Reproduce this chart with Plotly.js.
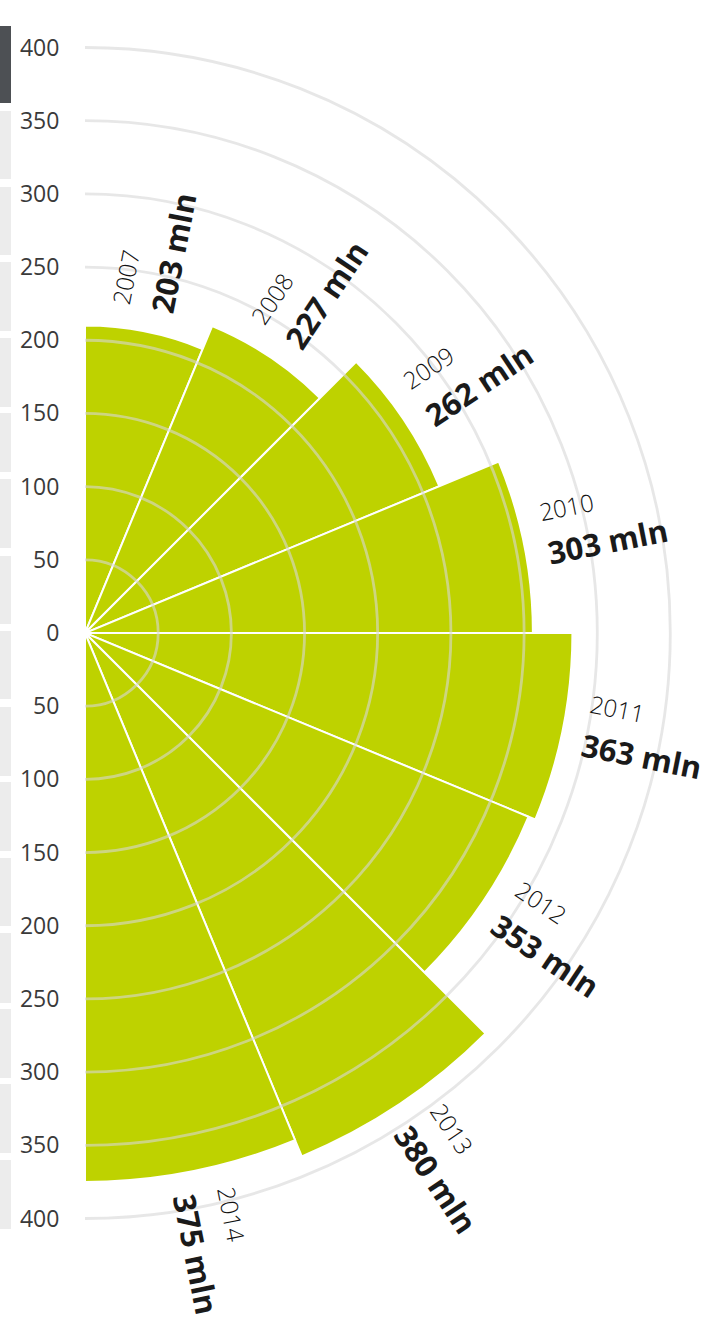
<!DOCTYPE html>
<html>
<head>
<meta charset="utf-8">
<script src="https://cdn.plot.ly/plotly-3.0.1.min.js"></script>
<style>
html,body{margin:0;padding:0;background:#ffffff;}
#chart{width:704px;height:1319px;}
</style>
</head>
<body>
<div id="chart"></div>
<script>
// ---------------- data ----------------
const years = ['2007','2008','2009','2010','2011','2012','2013','2014'];
const barValues = [210, 227, 262, 306, 333, 328, 387, 375];      // bar lengths as drawn
const labelValues = [203, 227, 262, 303, 363, 353, 380, 375];    // printed labels
const gridTicks = [50, 100, 150, 200, 250, 300, 350, 400];
const axisTickVals = [-400,-350,-300,-250,-200,-150,-100,-50,0,50,100,150,200,250,300,350,400];
const axisTickText = ['400','350','300','250','200','150','100','50','0','50','100','150','200','250','300','350','400'];

// ---------------- geometry / layout ----------------
const W = 704, H = 1319;
const cx = 85, cy = 633;
const pxPer = 585.5 / 400;       // pixels per unit
const rMax = 420;                // polar radial range
const xMax = 422, yMin = -468;   // cartesian overlay ranges
const period = 16;
const step = 360 / period;
const rotation = 90 - step / 2;

const polarDomain = {
  x: [cx / W, (cx + rMax * pxPer) / W],
  y: [1 - (cy + rMax * pxPer) / H, 1 - (cy - rMax * pxPer) / H]
};
const cartDomainX = [cx / W, Math.min(1, (cx + xMax * pxPer) / W)];
const cartDomainY = [Math.max(0, 1 - (cy - yMin * pxPer) / H), 1 - (cy - rMax * pxPer) / H];

const GREEN = '#bed200';
const FONT = '"Open Sans", "Noto Sans", sans-serif';

// measure text widths
const cv = document.createElement('canvas');
const ctx = cv.getContext('2d');
function textW(t, f) { ctx.font = f; return ctx.measureText(t).width; }

const valueFontSize = 31, yearFontSize = 24;
const gapPx = 22, valueOffV = -12, yearOffV = 30;

const annotations = [];
years.forEach((yr, i) => {
  const th = (step / 2 + i * step) * Math.PI / 180; // clockwise from north
  const ux = Math.sin(th), uy = Math.cos(th);
  const vx = -Math.cos(th), vy = Math.sin(th);
  const start = barValues[i] * pxPer + gapPx;
  const vText = labelValues[i] + ' mln';
  const wv = textW(vText, 'bold ' + valueFontSize + 'px "Open Sans"');
  const wy = textW(yr, '300 ' + yearFontSize + 'px "Open Sans"');
  const rv = start + wv / 2, ry = start + wy / 2;
  const ang = (step / 2 + i * step) - 90;
  annotations.push({
    xref: 'x', yref: 'y',
    x: (rv * ux + valueOffV * vx) / pxPer,
    y: (rv * uy + valueOffV * vy) / pxPer,
    text: vText, showarrow: false, textangle: ang,
    xanchor: 'center', yanchor: 'middle',
    font: {family: FONT, size: valueFontSize, color: '#1a1a1a', weight: 'bold'}
  });
  annotations.push({
    xref: 'x', yref: 'y',
    x: (ry * ux + yearOffV * vx) / pxPer,
    y: (ry * uy + yearOffV * vy) / pxPer,
    text: yr, showarrow: false, textangle: ang,
    xanchor: 'center', yanchor: 'middle',
    font: {family: FONT, size: yearFontSize, color: '#111111', weight: 300}
  });
});

// decorative strip on the left edge
const stripSegs = [[111,179],[187,255],[262,331],[338,407],[413,472],[479,548],[556,624],[631,699],[707,776],[782,851],[858,926],[933,1003],[1009,1078],[1084,1153],[1160,1229]];
const shapes = [{
  type: 'rect', xref: 'paper', yref: 'paper', x0: 0, x1: 11 / W,
  y0: 1 - 103 / H, y1: 1 - 26 / H, fillcolor: '#4d5054', line: {width: 0}, layer: 'below'
}];
stripSegs.forEach(s => shapes.push({
  type: 'rect', xref: 'paper', yref: 'paper', x0: 0, x1: 11 / W,
  y0: 1 - s[1] / H, y1: 1 - s[0] / H, fillcolor: '#ececec', line: {width: 0}, layer: 'below'
}));

const angularCommon = {
  type: 'category', period: period, rotation: rotation, direction: 'clockwise',
  showgrid: false, showline: false, showticklabels: false, ticks: ''
};

const data = [
  {type: 'scatter', x: [], y: [], xaxis: 'x', yaxis: 'y', hoverinfo: 'skip', showlegend: false},
  {
    type: 'barpolar', subplot: 'polar', r: barValues, theta: years,
    marker: {color: GREEN, line: {color: '#ffffff', width: 2}},
    hoverinfo: 'skip', showlegend: false
  },
  {
    type: 'scatterpolar', subplot: 'polar2', r: [0], theta: [years[0]], mode: 'markers',
    marker: {size: 1, opacity: 0}, hoverinfo: 'skip', showlegend: false
  }
];

const layout = {
  width: W, height: H,
  margin: {l: 0, r: 0, t: 0, b: 0},
  paper_bgcolor: '#ffffff', plot_bgcolor: 'rgba(0,0,0,0)',
  showlegend: false,
  xaxis: {domain: cartDomainX, range: [0, xMax], visible: false, fixedrange: true},
  yaxis: {
    domain: cartDomainY, range: [yMin, rMax], anchor: 'x',
    tickmode: 'array', tickvals: axisTickVals, ticktext: axisTickText,
    showgrid: false, zeroline: false, showline: false,
    ticks: 'outside', ticklen: 20, tickcolor: 'rgba(0,0,0,0)',
    tickfont: {family: FONT, size: 23, color: '#3a3a3a'}, fixedrange: true
  },
  polar: {
    domain: polarDomain, sector: [-90, 90], bgcolor: 'rgba(0,0,0,0)', bargap: 0, hole: 0,
    radialaxis: {range: [0, rMax], visible: false},
    angularaxis: angularCommon
  },
  polar2: {
    domain: polarDomain, sector: [-90, 90], bgcolor: 'rgba(0,0,0,0)', hole: 0,
    radialaxis: {
      range: [0, rMax], tickmode: 'array', tickvals: gridTicks,
      showgrid: true, gridcolor: 'rgba(215,215,215,0.6)', gridwidth: 2.8,
      showline: false, showticklabels: false, ticks: ''
    },
    angularaxis: angularCommon
  },
  shapes: shapes,
  annotations: annotations
};

Plotly.newPlot('chart', data, layout, {staticPlot: true, displayModeBar: false});
</script>
</body>
</html>
